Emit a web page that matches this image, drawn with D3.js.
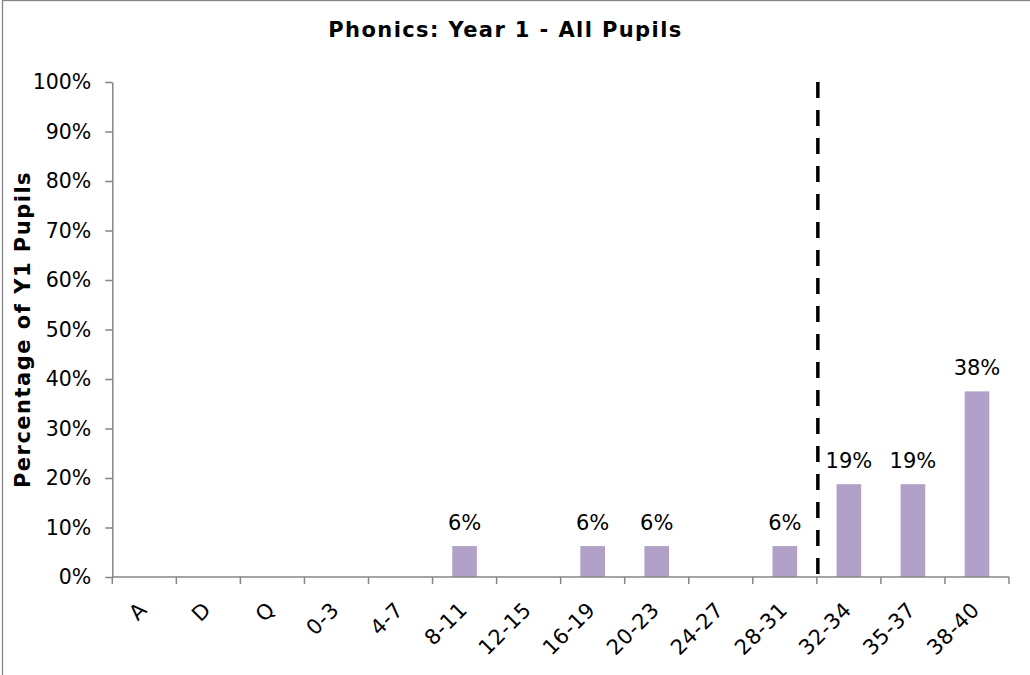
<!DOCTYPE html>
<html>
<head>
<meta charset="utf-8">
<script src="https://cdn.jsdelivr.net/npm/d3@7"></script>
<style>
  html, body { margin: 0; padding: 0; background: #fff; }
  svg { display: block; }
  text { font-family: Verdana, "DejaVu Sans", sans-serif; fill: #000; }
</style>
</head>
<body>
<svg id="chart" width="1030" height="675"></svg>
<script>
// ---- data ----
const categories = ["A", "D", "Q", "0-3", "4-7", "8-11", "12-15", "16-19", "20-23", "24-27", "28-31", "32-34", "35-37", "38-40"];
const values = [0, 0, 0, 0, 0, 0.0625, 0, 0.0625, 0.0625, 0, 0.0625, 0.1875, 0.1875, 0.375];
const yTicks = [0, 0.1, 0.2, 0.3, 0.4, 0.5, 0.6, 0.7, 0.8, 0.9, 1.0];
const thresholdCategory = "32-34";
const chartTitle = "Phonics: Year 1 - All Pupils";
const yTitle = "Percentage of Y1 Pupils";

// ---- layout ----
const plot = { left: 112.3, right: 1009, top: 82, bottom: 577 };
const axisColor = "#868686";
const barColor = "#b1a0c7";
const FONT = "Verdana, 'DejaVu Sans', sans-serif";

const svg = d3.select("#chart");

// chart border
svg.append("rect")
  .attr("x", 2.5).attr("y", 0.5)
  .attr("width", 1040).attr("height", 690)
  .attr("fill", "#fff")
  .attr("stroke", axisColor).attr("stroke-width", 1.3);

const x = d3.scaleBand().domain(categories).range([plot.left, plot.right]).paddingInner(0).paddingOuter(0);
const y = d3.scaleLinear().domain([0, 1]).range([plot.bottom, plot.top]);

const barW = x.bandwidth() / 2.6;

// title
svg.append("text")
  .attr("x", 505.5).attr("y", 37)
  .attr("text-anchor", "middle")
  .attr("font-size", 21).attr("font-weight", "bold")
  .attr("letter-spacing", 1.4)
  .text(chartTitle);

// y axis title
svg.append("text")
  .attr("transform", `translate(30, ${(plot.top + plot.bottom) / 2}) rotate(-90)`)
  .attr("text-anchor", "middle")
  .attr("font-size", 21).attr("font-weight", "bold")
  .attr("letter-spacing", 1.5)
  .text(yTitle);

const barData = categories.map((c, i) => ({ c, v: values[i] })).filter(d => d.v > 0);

// bars
svg.append("g").selectAll("rect")
  .data(barData)
  .join("rect")
  .attr("x", d => x(d.c) + (x.bandwidth() - barW) / 2)
  .attr("y", d => y(d.v))
  .attr("width", barW)
  .attr("height", d => y(0) - y(d.v))
  .attr("fill", barColor);

// data labels
svg.append("g").selectAll("text")
  .data(barData)
  .join("text")
  .attr("x", d => x(d.c) + x.bandwidth() / 2)
  .attr("y", d => y(d.v) - 16)
  .attr("text-anchor", "middle")
  .attr("font-size", 21)
  .text(d => Math.round(d.v * 100) + "%");

// y axis
const yAxis = d3.axisLeft(y).tickValues(yTicks).tickFormat(d3.format(".0%")).tickSize(7).tickSizeOuter(0).tickPadding(14);
const gy = svg.append("g").attr("transform", `translate(${plot.left},0)`).call(yAxis);
gy.select(".domain").attr("stroke", axisColor).attr("stroke-width", 1.5);
gy.selectAll(".tick line").attr("stroke", axisColor).attr("stroke-width", 1.5);
gy.selectAll(".tick text").attr("font-size", 20.5).attr("font-family", FONT).attr("fill", "#000");

// x axis (ticks on band boundaries)
const gx = svg.append("g").attr("transform", `translate(0,${plot.bottom})`);
gx.append("line")
  .attr("x1", plot.left).attr("x2", plot.right)
  .attr("stroke", axisColor).attr("stroke-width", 1.5);
const boundaries = categories.map(c => x(c)).concat([x(categories[categories.length - 1]) + x.bandwidth()]);
gx.selectAll("line.tk").data(boundaries).join("line")
  .attr("class", "tk")
  .attr("x1", d => d).attr("x2", d => d)
  .attr("y1", 0).attr("y2", 7)
  .attr("stroke", axisColor).attr("stroke-width", 1.5);
gx.selectAll("text").data(categories).join("text")
  .attr("transform", d => `translate(${x(d) + x.bandwidth() / 2 + 4}, 34) rotate(-45)`)
  .attr("text-anchor", "end")
  .attr("font-size", 21)
  .attr("letter-spacing", 0.6)
  .text(d => d);

// threshold dashed line
const tx = x(thresholdCategory);
svg.append("line")
  .attr("x1", tx + 1).attr("x2", tx + 1)
  .attr("y1", y(1)).attr("y2", y(0))
  .attr("stroke", "#000").attr("stroke-width", 3.5)
  .attr("stroke-dasharray", "16,12");
</script>
</body>
</html>
